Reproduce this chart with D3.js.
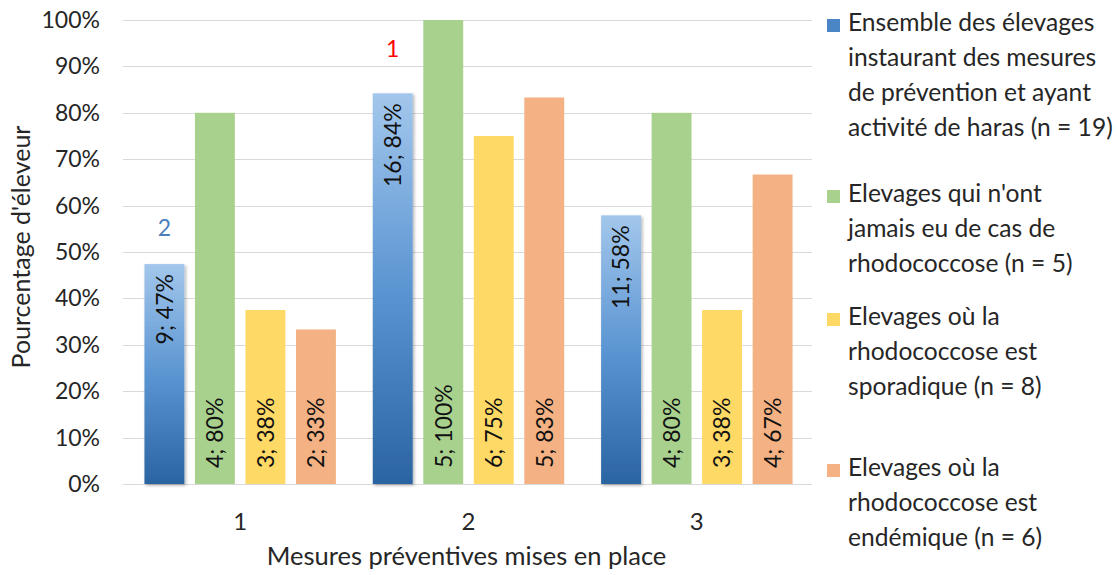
<!DOCTYPE html>
<html><head><meta charset="utf-8">
<script src="https://cdn.jsdelivr.net/npm/d3@7"></script>
<style>body{margin:0;background:#fff}svg{display:block}text{font-family:Lato,"Open Sans",sans-serif}</style>
</head><body><svg id="c" width="1118" height="575"></svg>
<script>
const categories = ["1", "2", "3"];
const seriesNames = [
  "Ensemble des élevages instaurant des mesures de prévention et ayant activité de haras (n = 19)",
  "Elevages qui n'ont jamais eu de cas de rhodococcose (n = 5)",
  "Elevages où la rhodococcose est sporadique (n = 8)",
  "Elevages où la rhodococcose est endémique (n = 6)"
];
const legendLines = [
  ["Ensemble des élevages", "instaurant des mesures", "de prévention et ayant", "activité de haras (n = 19)"],
  ["Elevages qui n'ont", "jamais eu de cas de", "rhodococcose (n = 5)"],
  ["Elevages où la", "rhodococcose est", "sporadique (n = 8)"],
  ["Elevages où la", "rhodococcose est", "endémique (n = 6)"]
];
const percentValues = [
  [47.4, 84.2, 57.9],
  [80, 100, 80],
  [37.5, 75, 37.5],
  [33.3, 83.3, 66.7]
];
const counts = [
  [9, 16, 11],
  [4, 5, 4],
  [3, 6, 3],
  [2, 5, 4]
];
const labelPercents = [
  ["47%", "84%", "58%"],
  ["80%", "100%", "80%"],
  ["38%", "75%", "38%"],
  ["33%", "83%", "67%"]
];
const yTicks = [0, 10, 20, 30, 40, 50, 60, 70, 80, 90, 100];
const annotationCats = ["1", "2"];
const annotationTexts = ["2", "1"];
const annotationColors = ["#4a7ebb", "#ff0000"];
const colors = ["#5b9bd5", "#a9d18e", "#ffd966", "#f4b183"];

const svg = d3.select("#c");
const m = {l: 126, r: 811, t: 20, b: 484};
const x0 = d3.scaleBand().domain(categories).range([m.l, m.r]);
const x1 = d3.scaleBand().domain(d3.range(seriesNames.length)).range([0, x0.bandwidth()]).paddingInner(0.21).paddingOuter(0.365);
const y = d3.scaleLinear().domain([0, 100]).range([m.b, m.t]);
const textCol = "#262626";

const defs = svg.append("defs");
const g = defs.append("linearGradient").attr("id", "blueGrad").attr("x1", 0).attr("y1", 0).attr("x2", 0).attr("y2", 1);
g.append("stop").attr("offset", "0%").attr("stop-color", "#a3c7ec");
g.append("stop").attr("offset", "50%").attr("stop-color", "#5b95d2");
g.append("stop").attr("offset", "100%").attr("stop-color", "#2b64a1");
const f = defs.append("filter").attr("id", "shadow").attr("x", "-20%").attr("y", "-5%").attr("width", "150%").attr("height", "115%");
f.append("feDropShadow").attr("dx", 1.5).attr("dy", 1.5).attr("stdDeviation", 1.5).attr("flood-color", "#000").attr("flood-opacity", 0.3);

// gridlines
svg.append("g").selectAll("line").data(yTicks).join("line")
  .attr("x1", 123).attr("x2", 812)
  .attr("y1", d => Math.round(y(d)) + 0.5).attr("y2", d => Math.round(y(d)) + 0.5)
  .attr("stroke", "#d9d9d9").attr("stroke-width", 1.2);

// y tick labels
svg.append("g").selectAll("text").data(yTicks).join("text")
  .attr("x", 100).attr("y", d => y(d)).attr("dy", "0.35em")
  .attr("text-anchor", "end").attr("font-size", 23).attr("fill", textCol)
  .text(d => d + "%");

// bars
const groups = svg.append("g").selectAll("g").data(categories).join("g")
  .attr("transform", c => `translate(${x0(c)},0)`);
groups.each(function(c, ci) {
  const gg = d3.select(this);
  seriesNames.forEach((s, si) => {
    const v = percentValues[si][ci];
    gg.append("rect")
      .attr("x", x1(si)).attr("width", x1.bandwidth())
      .attr("y", y(v)).attr("height", y(0) - y(v))
      .attr("fill", si === 0 ? "url(#blueGrad)" : colors[si])
      .attr("filter", si === 0 ? "url(#shadow)" : null);
  });
  seriesNames.forEach((s, si) => {
    const v = percentValues[si][ci];
    const cx = x1(si) + x1.bandwidth() / 2;
    const lbl = counts[si][ci] + "; " + labelPercents[si][ci];
    const top = si === 0;
    gg.append("text")
      .attr("transform", top ? `translate(${cx},${y(v) + 10}) rotate(-90)` : `translate(${cx},${y(0) - 16}) rotate(-90)`)
      .attr("text-anchor", top ? "end" : "start").attr("dy", "0.36em")
      .attr("font-size", 23).attr("fill", "#111").text(lbl);
  });
});

// annotations (above the first series bar)
const annotationLift = [36, 45];
svg.append("g").selectAll("text").data(annotationCats).join("text")
  .attr("x", (c) => x0(c) + x1(0) + x1.bandwidth() / 2)
  .attr("y", (c, i) => y(percentValues[0][categories.indexOf(c)]) - annotationLift[i])
  .attr("text-anchor", "middle").attr("dy", "0.36em")
  .attr("font-size", 23).attr("fill", (c, i) => annotationColors[i]).text((c, i) => annotationTexts[i]);

// category labels
svg.append("g").selectAll("text").data(categories).join("text")
  .attr("x", c => x0(c) + x0.bandwidth() / 2).attr("y", 521).attr("dy", "0.36em")
  .attr("text-anchor", "middle").attr("font-size", 24).attr("fill", textCol).text(c => c);

// axis titles
svg.append("text").attr("x", (m.l + m.r) / 2 - 2).attr("y", 556).attr("dy", "0.36em")
  .attr("text-anchor", "middle").attr("font-size", 25.5).attr("fill", textCol)
  .text("Mesures préventives mises en place");
svg.append("text").attr("transform", `translate(21,${(m.t + m.b) / 2 - 5}) rotate(-90)`).attr("dy", "0.36em")
  .attr("text-anchor", "middle").attr("font-size", 25).attr("fill", textCol)
  .text("Pourcentage d'éleveur");

// legend
const legendTops = [22, 193, 316, 467];
const lineH = 35;
const leg = svg.append("g");
legendLines.forEach((lines, i) => {
  leg.append("rect").attr("x", 827).attr("y", legendTops[i] - 3).attr("width", 13).attr("height", 13)
    .attr("fill", i === 0 ? "#4a86c6" : colors[i]);
  lines.forEach((t, j) => {
    leg.append("text").attr("x", 848).attr("y", legendTops[i] + j * lineH).attr("dy", "0.36em")
      .attr("font-size", 24.6).attr("fill", textCol).text(t);
  });
});
</script></body></html>
